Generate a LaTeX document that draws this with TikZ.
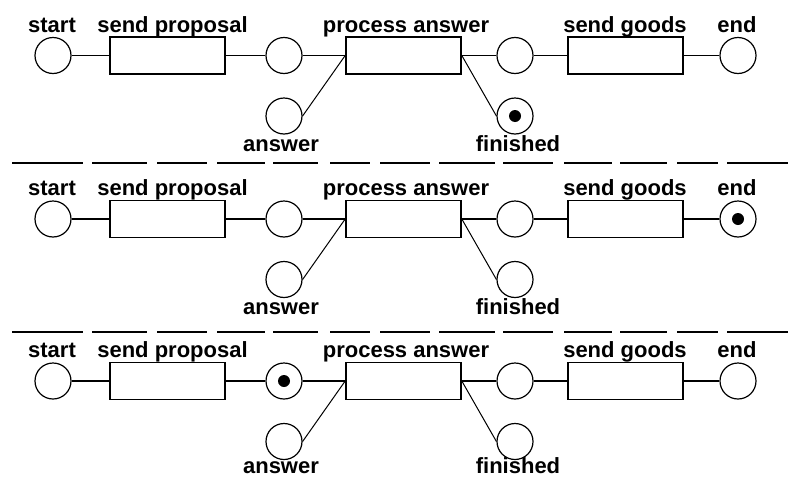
\documentclass[tikz,border=0pt]{standalone}
\usepackage{fontspec}
\setmainfont{Liberation Sans}
\begin{document}
\begin{tikzpicture}[x=1pt,y=-1pt,
  place/.style={circle, draw, line width=1.2pt, minimum size=36pt, inner sep=0pt},
  trans/.style={rectangle, draw, line width=1.6pt, minimum width=115pt, minimum height=37pt, inner sep=0pt},
  lbl/.style={font=\fontsize{22}{24}\selectfont\bfseries, anchor=base, inner sep=0pt},
  arcline/.style={line width=1.6pt},
  diag/.style={line width=1pt},
  token/.style={circle, fill, inner sep=0pt, minimum size=12pt},
  sepline/.style={line width=2pt}]
\useasboundingbox[fill=white] (0,0) rectangle (788,477);
\foreach \r/\y/\yb in {1/55.5/151, 2/219/314.5, 3/381/473.5} {
  \node[place] (s\r)  at (53,\y) {};
  \node[trans] (sp\r) at (167.5,\y) {};
  \node[place] (p\r)  at (284,\y) {};
  \node[trans] (pa\r) at (403.5,\y) {};
  \node[place] (q\r)  at (515,\y) {};
  \node[trans] (sg\r) at (625.5,\y) {};
  \node[place] (e\r)  at (738,\y) {};
  \node[place] (a\r)  at (284,\y+60.5) {};
  \node[place] (f\r)  at (515,\y+60.5) {};
  \node[lbl] (ls\r)  at (52,\y-23.5) {start};
  \node[lbl] (lsp\r) at (172.5,\y-23.5) {send proposal};
  \node[lbl] (lpa\r) at (406,\y-23.5) {process answer};
  \node[lbl] (lsg\r) at (625,\y-23.5) {send goods};
  \node[lbl] (le\r)  at (737,\y-23.5) {end};
  \node[lbl] (la\r)  at (281,\yb) {answer};
  \node[lbl] (lf\r)  at (518,\yb) {finished};
  \draw[arcline] (s\r) -- (sp\r);
  \draw[arcline] (sp\r) -- (p\r);
  \draw[arcline] (p\r) -- (pa\r);
  \draw[arcline] (pa\r) -- (q\r);
  \draw[arcline] (q\r) -- (sg\r);
  \draw[arcline] (sg\r) -- (e\r);
  \draw[diag] (a\r.east) -- (pa\r.west);
  \draw[diag] (pa\r.east) -- (f\r.west);
}
\node[token] (tok1) at (f1) {};
\node[token] (tok2) at (e2) {};
\node[token] (tok3) at (p3) {};
\foreach \ys in {163, 332} {
  \foreach \xa/\xb in {12/83, 92/147, 157/207, 217/265, 273/318, 330/370, 380/430, 439/495, 503/553, 564/612, 620/667, 677/718, 727/788} {
    \draw[sepline] (\xa,\ys) -- (\xb,\ys);
  }
}
\end{tikzpicture}
\end{document}
